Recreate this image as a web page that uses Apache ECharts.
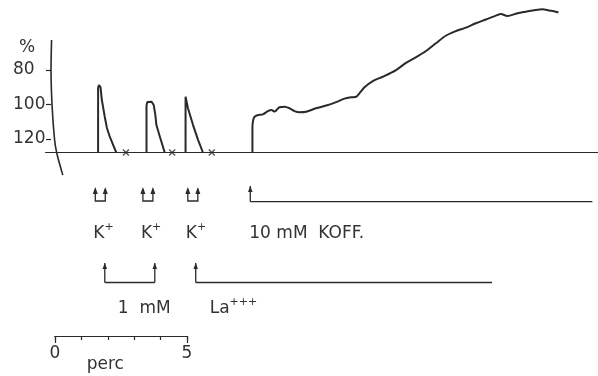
<!DOCTYPE html>
<html><head><meta charset="utf-8">
<script src="https://cdn.jsdelivr.net/npm/echarts@6/dist/echarts.min.js"></script>
<style>html,body{margin:0;padding:0;background:#fff}#c{width:598px;height:376px}</style>
</head><body><div id="c"></div>
<script>
// ---- data (x: minutes, y: %) ----
const yTickValues = [80, 100, 120];
const baselineLevel = 127.8;
const baselineSpan = [-0.22, 20.45];
const axisCurve = [[0.02, 62.6], [0.0, 80], [0.04, 100.9], [0.13, 120], [0.21, 127.8], [0.44, 140.9]];
const spike1 = [[1.76,127.8],[1.76,90.4],[1.79,88.7],[1.85,89.9],[1.90,97.4],[2.01,107.2],[2.09,113.6],[2.20,118.8],[2.31,122.9],[2.44,127.8]];
const spike2 = [[3.57,127.8],[3.57,100.5],[3.60,98.6],[3.66,98.0],[3.76,98.4],[3.84,100.3],[3.90,106.0],[3.94,111.9],[4.07,118.7],[4.25,127.8]];
const spike3 = [[5.03,127.8],[5.03,95.5],[5.05,94.9],[5.12,102.2],[5.31,111.9],[5.50,120.6],[5.68,127.8]];
const washMarks = [2.80, 4.53, 6.01];
const koffTrace = [[7.53,127.8],[7.53,112.9],[7.56,109.0],[7.61,107.1],[7.74,106.1],[7.92,105.7],[8.11,103.8],[8.24,103.2],[8.36,104.1],[8.54,101.6],[8.73,101.3],[8.92,102.2],[9.10,103.8],[9.29,104.5],[9.54,104.2],[9.91,102.2],[10.29,100.6],[10.66,98.6],[10.97,96.6],[11.22,95.8],[11.41,95.5],[11.53,93.5],[11.72,90.0],[12.03,86.4],[12.40,83.9],[12.90,80.0],[13.27,75.9],[13.65,72.5],[14.02,69.0],[14.39,64.5],[14.77,60.0],[15.14,57.4],[15.51,55.4],[15.88,52.9],[16.26,50.7],[16.63,48.5],[16.82,47.5],[17.06,48.7],[17.44,47.1],[17.75,46.2],[18.12,45.2],[18.37,44.8],[18.62,45.5],[18.87,46.2],[18.97,46.7]];
const kEvents = [1.58, 3.36, 5.04];
const koffEvent = [7.45, 20.24];
const laBracket = [2.01, 3.88];
const laEvent = [5.41, 16.49];
const scaleTicks = [0, 1, 2, 3, 4, 5];
const scaleEndTicks = [0, 5];

const INK = '#2a2a2a', TXT = '#333';
const FONT = 'DejaVu Sans';
const chart = echarts.init(document.getElementById('c'), null, {renderer: 'canvas'});

const lineS = (data, w, smooth) => ({
  type: 'line', data, symbol: 'none', smooth: smooth || false, clip: false,
  lineStyle: {color: INK, width: w}, silent: true, animation: false
});

chart.setOption({
  animation: false,
  backgroundColor: '#fff',
  grid: [
    {left: 43, right: -1, top: 1, height: 176},
    {left: 55, width: 132, top: 300, bottom: 40}
  ],
  xAxis: [
    {gridIndex: 0, type: 'value', min: -0.3, max: 20.45, show: false},
    {gridIndex: 1, type: 'value', position: 'bottom', min: 0, max: 5, interval: 1,
      axisLine: {lineStyle: {color: INK, width: 1.2}},
      axisTick: {length: 4, lineStyle: {color: INK, width: 1.2}},
      axisLabel: {customValues: scaleEndTicks, margin: 9, color: TXT, fontFamily: FONT, fontSize: 17},
      splitLine: {show: false}},
    {gridIndex: 1, type: 'value', position: 'bottom', offset: 0, min: 0, max: 5, interval: 5,
      axisLine: {show: true, lineStyle: {color: INK, width: 1.2}},
      axisTick: {show: true, length: 7, lineStyle: {color: INK, width: 1.2}},
      axisLabel: {show: false}, splitLine: {show: false}}
  ],
  yAxis: [
    {gridIndex: 0, type: 'value', inverse: true, min: 40, max: 142,
      axisLine: {show: false, onZero: true},
      axisTick: {show: true, length: 5, customValues: yTickValues, lineStyle: {color: INK, width: 1.2}},
      axisLabel: {customValues: yTickValues, align: 'left', margin: 30, color: TXT, fontFamily: FONT, fontSize: 17},
      splitLine: {show: false}},
    {gridIndex: 1, type: 'value', show: false, min: 0, max: 1}
  ],
  series: [
    lineS(axisCurve, 1.6, 0.3),
    lineS([[baselineSpan[0], baselineLevel], [baselineSpan[1], baselineLevel]], 1.2),
    lineS(spike1, 2),
    lineS(spike2, 2),
    lineS(spike3, 2),
    lineS(koffTrace, 2, 0.3),
    {type: 'scatter', data: washMarks.map(x => [x, baselineLevel]), clip: false,
      symbol: 'path://M0,0L10,10M10,0L0,10', symbolSize: 6,
      itemStyle: {color: 'none', borderColor: INK, borderWidth: 1.4}, silent: true}
  ]
});

const px = v => chart.convertToPixel({xAxisIndex: 0}, v);
const pxS = v => chart.convertToPixel({xAxisIndex: 1}, v);
const g = [];
const stroke = {stroke: INK, lineWidth: 1.3, fill: null};
function arrowUp(x, yTop, yBot) {
  g.push({type: 'polyline', shape: {points: [[x, yBot], [x, yTop]]}, style: stroke, silent: true});
  g.push({type: 'polygon', shape: {points: [[x - 2.3, yTop + 6], [x, yTop], [x + 2.3, yTop + 6]]}, style: {fill: INK}, silent: true});
}
function text(t, x, y, rich) {
  g.push({type: 'text', x, y, style: {text: t, fontFamily: FONT, fontSize: 17, fill: TXT, verticalAlign: 'middle', rich: rich}, silent: true});
}
const supRich = {sup: {fontFamily: FONT, fontSize: 11, fill: TXT, verticalAlign: 'top', padding: [0, 0, 13, 0]}};

// K+ application symbols and labels
kEvents.forEach(t => {
  const L = px(t), R = L + 14, yb = 201, yt = 187;
  g.push({type: 'polyline', shape: {points: [[L + 2, yt + 2], [L + 2, yb], [R - 2, yb], [R - 2, yt + 2]]}, style: stroke, silent: true});
  g.push({type: 'polygon', shape: {points: [[L - 0.5, yt + 7], [L + 2, yt], [L + 4.5, yt + 7]]}, style: {fill: INK}, silent: true});
  g.push({type: 'polygon', shape: {points: [[R - 4.5, yt + 7], [R - 2, yt], [R + 0.5, yt + 7]]}, style: {fill: INK}, silent: true});
  text('K{sup|+}', L, 234, supRich);
});
// KOFF
arrowUp(px(koffEvent[0]), 186, 201.7);
g.push({type: 'polyline', shape: {points: [[px(koffEvent[0]), 201.7], [px(koffEvent[1]), 201.7]]}, style: stroke, silent: true});
text('10 mM  KOFF.', px(koffEvent[0]) - 1, 234);
// La bracket
arrowUp(px(laBracket[0]), 263, 282.5);
arrowUp(px(laBracket[1]), 263, 282.5);
g.push({type: 'polyline', shape: {points: [[px(laBracket[0]), 282.5], [px(laBracket[1]), 282.5]]}, style: stroke, silent: true});
arrowUp(px(laEvent[0]), 263, 282.5);
g.push({type: 'polyline', shape: {points: [[px(laEvent[0]), 282.5], [px(laEvent[1]), 282.5]]}, style: stroke, silent: true});
text('1  mM', px(laBracket[0]) + 13, 309);
text('La{sup|+++}', px(laEvent[0]) + 14, 309, supRich);
// axis unit and scale-bar name
text('%', 19, 48);
text('perc', pxS(1.2), 365);

chart.setOption({graphic: g});
</script></body></html>
